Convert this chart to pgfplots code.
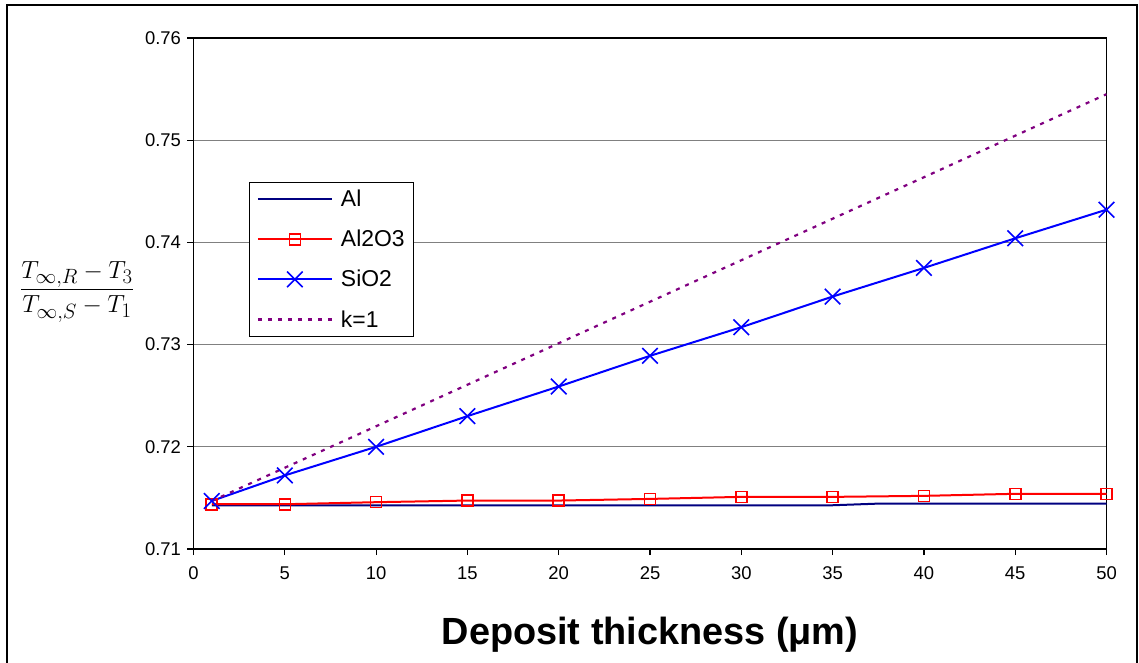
\documentclass[border=0pt]{standalone}
\usepackage{pgfplots}
\pgfplotsset{compat=1.18}
\usepackage{fontspec}
\setmainfont{Liberation Sans}
\definecolor{alnavy}{RGB}{0,0,128}
\definecolor{kpurple}{RGB}{128,0,128}
\definecolor{gridgray}{RGB}{128,128,128}
\begin{document}
\begin{tikzpicture}
\useasboundingbox (0,0) rectangle (1139bp,663bp);
\draw[line width=1.5bp] (7bp,-5bp) -- (7bp,658bp) -- (1137bp,658bp) -- (1137bp,-5bp);
\begin{axis}[
  at={(193.5bp,114bp)}, anchor=south west,
  width=913bp, height=511bp, scale only axis,
  xmin=0, xmax=50, ymin=0.71, ymax=0.76,
  xtick={0,5,...,50},
  ytick={0.71,0.72,0.73,0.74,0.75,0.76},
  yticklabel style={/pgf/number format/fixed, /pgf/number format/precision=2, /pgf/number format/fixed zerofill},
  xticklabel style={yshift=-8bp},
  yticklabel style={xshift=-3bp},
  /pgf/number format/assume math mode=true,
  tick label style={font=\fontsize{18.5}{21}\selectfont},
  ymajorgrids,
  major grid style={gridgray, line width=1.2bp},
  axis line style={black, line width=1.4bp},
  tick style={black, line width=1.2bp},
  tick align=outside, major tick length=6bp,
  tick pos=left,
  xlabel={\textbf{Deposit thickness (μm)}},
  xlabel style={font=\fontsize{38}{44}\selectfont, at={(axis description cs:0.5,-0.167)}, anchor=center},
  ylabel={$\displaystyle\frac{T_{\infty,R}-T_3}{T_{\infty,S}-T_1}$},
  ylabel style={font=\fontsize{28}{32}\selectfont, at={(axis description cs:-0.1276,0.5035)}, anchor=center, rotate=-90},
  legend style={at={(rel axis cs:0.0611,0.7188)}, anchor=north west, draw=black, line width=1bp, fill=white,
    font=\fontsize{23}{26}\selectfont, row sep=18bp, inner xsep=7bp, inner ysep=6bp, cells={anchor=west}},
  legend cell align=left,
  legend image code/.code={\draw[mark repeat=2,mark phase=2] plot coordinates {(0bp,0bp) (37bp,0bp) (74bp,0bp)};},
]
\addplot[alnavy, line width=2bp, no markers] coordinates {
  (1,0.71428) (5,0.71428) (10,0.71428) (15,0.71428) (20,0.71428) (25,0.71428) (30,0.71428) (35,0.71428)
  (37.5,0.71444) (40,0.71444) (45,0.71444) (50,0.71444)};
\addlegendentry{\hspace{6bp}Al}
\addplot[red, line width=2bp, mark=square, mark size=5.5bp, mark options={line width=1.6bp, fill=none}] coordinates {
  (1,0.71438) (5,0.71438) (10,0.71458) (15,0.71474) (20,0.71474) (25,0.7149) (30,0.7151) (35,0.7151)
  (40,0.7152) (45,0.7154) (50,0.7154)};
\addlegendentry{\hspace{6bp}Al2O3}
\addplot[blue, line width=2bp, mark=x, mark size=11bp, mark options={line width=1.6bp}] coordinates {
  (1,0.7147) (5,0.7172) (10,0.7200) (15,0.7230) (20,0.7259) (25,0.7289) (30,0.7317) (35,0.7347)
  (40,0.7375) (45,0.7404) (50,0.7432)};
\addlegendentry{\hspace{6bp}SiO2}
\addplot[kpurple, line width=2.2bp, dash pattern=on 4bp off 6bp, no markers] coordinates {
  (1,0.7147) (50,0.7545)};
\addlegendentry{\hspace{6bp}k=1}
\end{axis}
\end{tikzpicture}
\end{document}
